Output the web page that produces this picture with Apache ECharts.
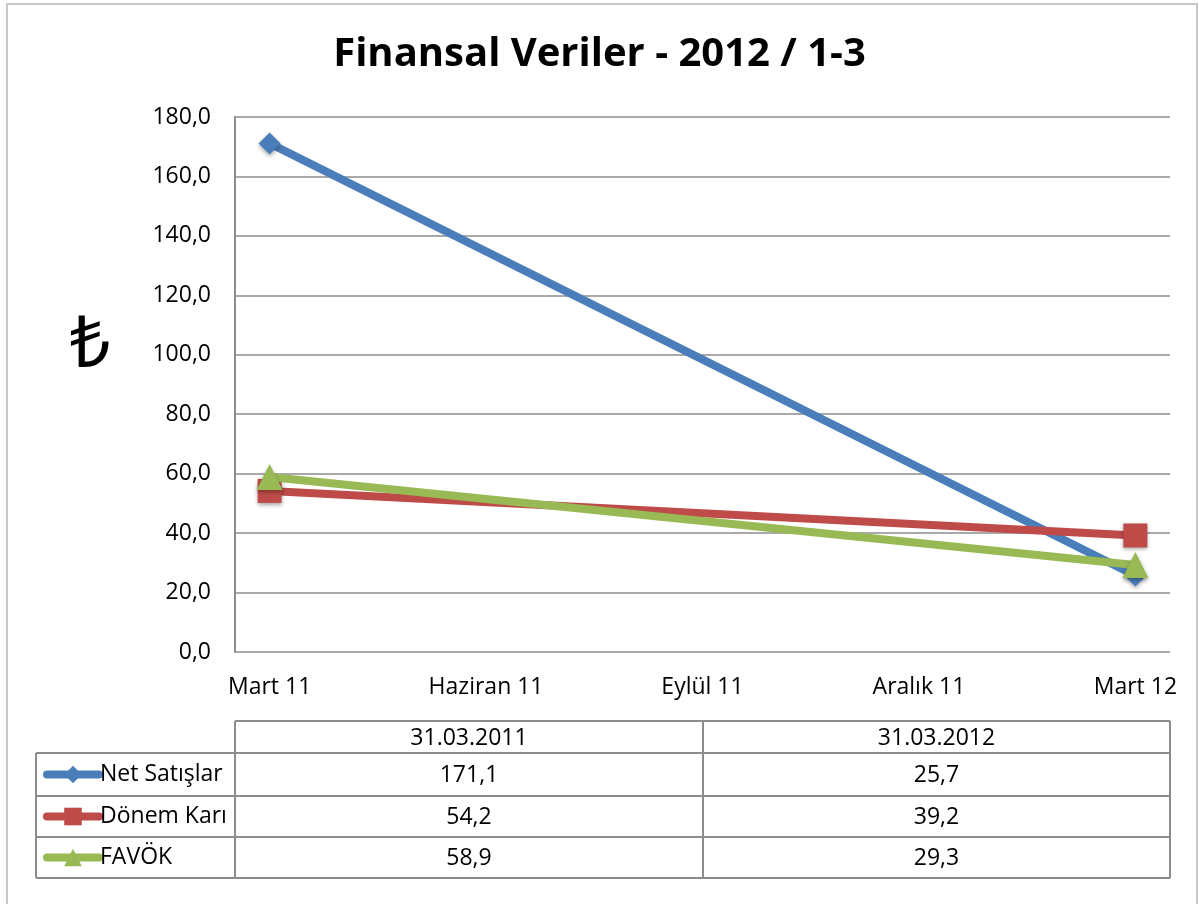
<!DOCTYPE html>
<html>
<head>
<meta charset="utf-8">
<script src="https://cdn.jsdelivr.net/npm/echarts@6/dist/echarts.min.js"></script>
<style>
html,body{margin:0;padding:0;background:#fff;}
#chart{width:1199px;height:904px;}
</style>
</head>
<body>
<div id="chart"></div>
<script>
// ---- data ----
var titleText = 'Finansal Veriler - 2012 / 1-3';
var categories = ['Mart 11', 'Haziran 11', 'Eylül 11', 'Aralık 11', 'Mart 12'];
var seriesNames = ['Net Satışlar', 'Dönem Karı', 'FAVÖK'];
var netSatislar = [171.1, null, null, null, 25.7];
var donemKari   = [54.2, null, null, null, 39.2];
var favok       = [58.9, null, null, null, 29.3];
var tableHeaders = ['31.03.2011', '31.03.2012'];
var tableColumnIndex = [0, 4];
var yTicks = [0, 20, 40, 60, 80, 100, 120, 140, 160, 180];

// ---- style ----
var colors = ['#4a7ebb', '#be4b48', '#98b954'];
var symbols = ['diamond', 'rect', 'triangle'];
var symbolSizes = [22, 24, 26];
var FONT = '"Open Sans", Lato, sans-serif';
var FS = 23;
var gridColor = '#8c8c8c';
var allValues = [netSatislar, donemKari, favok];

function fmt(v){ return v.toFixed(1).replace('.', ','); }

var chart = echarts.init(document.getElementById('chart'));

var series = allValues.map(function(vals, s){
  var data = [];
  vals.forEach(function(v, i){ if (v !== null) data.push([i, v]); });
  return {
    name: seriesNames[s],
    type: 'line',
    data: data,
    connectNulls: true,
    symbol: symbols[s],
    symbolSize: symbolSizes[s],
    lineStyle: {width: 8, color: colors[s]},
    itemStyle: {color: colors[s], shadowBlur: 4, shadowColor: 'rgba(0,0,0,0.35)', shadowOffsetY: 2},
    z: 2 + s
  };
});

// table geometry
var tL = 36, tC0 = 235, tC1 = 703, tR = 1170;
var rowY = [721, 753, 796, 837, 878];
var graphics = [];
graphics.push({type:'rect', shape:{x:7, y:4, width:1190, height:960}, style:{fill:null, stroke:'#c8c8c8', lineWidth:2}, silent:true});
graphics.push({type:'text', x: 90, y: 346, style:{text:'₺', font:'72px "Noto Sans"', fill:'#000', textAlign:'center', textVerticalAlign:'middle'}});
var lineStyle = {stroke: gridColor, lineWidth: 2};
// header row
graphics.push({type:'line', shape:{x1:tC0, y1:rowY[0], x2:tR, y2:rowY[0]}, style:lineStyle});
for (var r = 1; r < rowY.length; r++) {
  graphics.push({type:'line', shape:{x1:tL, y1:rowY[r], x2:tR, y2:rowY[r]}, style:lineStyle});
}
graphics.push({type:'line', shape:{x1:tL, y1:rowY[1], x2:tL, y2:rowY[4]}, style:lineStyle});
[tC0, tC1, tR].forEach(function(x){
  graphics.push({type:'line', shape:{x1:x, y1:rowY[0], x2:x, y2:rowY[4]}, style:lineStyle});
});
var colCenters = [(tC0 + tC1) / 2, (tC1 + tR) / 2];
tableHeaders.forEach(function(h, c){
  graphics.push({type:'text', x: colCenters[c], y: (rowY[0] + rowY[1]) / 2 + 1,
    style:{text:h, font:FS + 'px ' + FONT, fill:'#000', textAlign:'center', textVerticalAlign:'middle'}});
});
allValues.forEach(function(vals, s){
  tableColumnIndex.forEach(function(ci, c){
    graphics.push({type:'text', x: colCenters[c], y: (rowY[s+1] + rowY[s+2]) / 2 + 1,
      style:{text: fmt(vals[ci]), font:FS + 'px ' + FONT, fill:'#000', textAlign:'center', textVerticalAlign:'middle'}});
  });
});

var legends = seriesNames.map(function(n, s){
  var cy = (rowY[s+1] + rowY[s+2]) / 2;
  return {
    data: [n], left: 43, top: cy - 13, itemWidth: 52, itemHeight: 22, itemGap: 0,
    lineStyle: {width: 8, cap: 'round'},
    textStyle: {fontFamily: FONT, fontSize: FS, color: '#000', lineHeight: 26, padding: [0,0,0,-4]},
    padding: 0, selectedMode: false
  };
});

chart.setOption({
  animation: false,
  textStyle: {fontFamily: FONT},
  title: {
    text: titleText, left: 'center', top: 30,
    textStyle: {fontFamily: FONT, fontSize: 40, fontWeight: 'bold', color: '#000'}
  },
  legend: legends,
  grid: {left: 235, right: 29, top: 117, bottom: 252, containLabel: false},
  xAxis: {
    type: 'value', min: -0.16, max: 4.16,
    axisLine: {show: false}, axisTick: {show: false}, splitLine: {show: false},
    axisLabel: {
      customValues: [0, 1, 2, 3, 4],
      formatter: function(v){ return categories[Math.round(v)]; },
      fontSize: FS, color: '#000', margin: 24, fontFamily: FONT
    }
  },
  yAxis: {
    type: 'value', min: yTicks[0], max: yTicks[yTicks.length - 1], interval: 20,
    axisLine: {show: true, onZero: false, lineStyle: {color: gridColor, width: 2}},
    axisTick: {show: false},
    splitLine: {lineStyle: {color: gridColor, width: 1.5}},
    axisLabel: {formatter: fmt, fontSize: FS, color: '#000', margin: 24, fontFamily: FONT}
  },
  series: series,
  graphic: graphics
});
</script>
</body>
</html>
